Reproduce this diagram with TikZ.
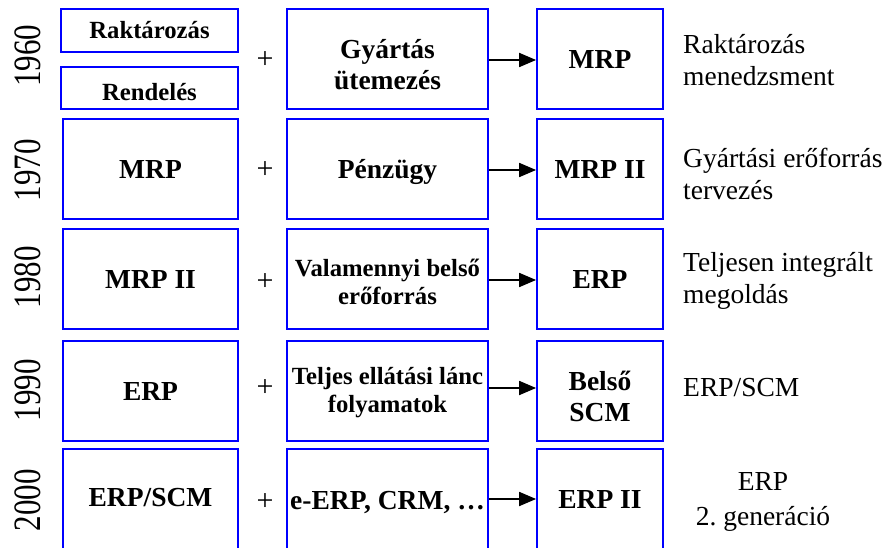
\documentclass[tikz,border=0pt]{standalone}
\usepackage{fontspec}
\setmainfont{Liberation Serif}
\usetikzlibrary{arrows.meta}
\begin{document}
\begin{tikzpicture}[x=1pt,y=-1pt,
  bx/.style={draw=blue, line width=1.8pt, inner sep=0pt},
  tx/.style={inner sep=0pt, align=center, font=\bfseries\fontsize{27.5}{31}\selectfont},
  sm/.style={font=\bfseries\fontsize{24.7}{28}\selectfont},
  desc/.style={anchor=west, inner sep=0pt, align=left, font=\fontsize{27.5}{32}\selectfont},
  yr/.style={rotate=90, inner sep=0pt, font=\fontsize{31}{31}\selectfont, yscale=1.25},
  pl/.style={inner sep=0pt, font=\fontsize{30}{30}\selectfont},
  ar/.style={draw=black, line width=1.8pt, -{Triangle[length=17pt,width=14pt]}}]
\useasboundingbox (0,0) rectangle (888,548);
\clip (0,0) rectangle (888,548);
% years
\node[yr] (y1) at (28,56) {1960};
\node[yr] (y2) at (28,170) {1970};
\node[yr] (y3) at (28,277) {1980};
\node[yr] (y4) at (28,390) {1990};
\node[yr] (y5) at (28,500) {2000};
% boxes
\node[bx, minimum width=177, minimum height=43] (a1) at (149.5,30.5) {};
\node[bx, minimum width=177, minimum height=42] (a1b) at (149.5,88) {};
\node[bx, minimum width=201, minimum height=100] (b1) at (387.5,59) {};
\node[bx, minimum width=126, minimum height=100] (c1) at (600,59) {};
\node[bx, minimum width=175, minimum height=100] (a2) at (150.5,169) {};
\node[bx, minimum width=201, minimum height=100] (b2) at (387.5,169) {};
\node[bx, minimum width=126, minimum height=100] (c2) at (600,169) {};
\node[bx, minimum width=175, minimum height=100] (a3) at (150.5,279) {};
\node[bx, minimum width=201, minimum height=100] (b3) at (387.5,279) {};
\node[bx, minimum width=126, minimum height=100] (c3) at (600,279) {};
\node[bx, minimum width=175, minimum height=100] (a4) at (150.5,391) {};
\node[bx, minimum width=201, minimum height=100] (b4) at (387.5,391) {};
\node[bx, minimum width=126, minimum height=100] (c4) at (600,391) {};
\node[bx, minimum width=175, minimum height=104] (a5) at (150.5,501) {};
\node[bx, minimum width=201, minimum height=104] (b5) at (387.5,501) {};
\node[bx, minimum width=126, minimum height=104] (c5) at (600,501) {};
% box texts
\node[tx, sm] (ta1) at (a1.center) {Raktározás};
\node[tx, sm] (ta1b) at ([yshift=-4pt]a1b.center) {Rendelés};
\node[tx] (tb1) at ([yshift=-6pt]b1.center) {Gyártás\\ütemezés};
\node[tx] (tc1) at (c1.center) {MRP};
\node[tx] (ta2) at (a2.center) {MRP};
\node[tx] (tb2) at ([yshift=-3pt]b2.center) {Pénzügy};
\node[tx] (tc2) at (c2.center) {MRP II};
\node[tx] (ta3) at (a3.center) {MRP II};
\node[tx, sm] (tb3) at ([yshift=-3pt]b3.center) {Valamennyi belső\\erőforrás};
\node[tx] (tc3) at (c3.center) {ERP};
\node[tx] (ta4) at (a4.center) {ERP};
\node[tx, sm] (tb4) at ([yshift=-2pt]b4.center) {Teljes ellátási lánc\\folyamatok};
\node[tx] (tc4) at ([yshift=-5pt]c4.center) {Belső\\SCM};
\node[tx] (ta5) at ([yshift=3pt]a5.center) {ERP/SCM};
\node[tx] (tb5) at ([yshift=-2pt]b5.center) {e-ERP, CRM, …};
\node[tx] (tc5) at ([yshift=2pt]c5.center) {ERP II};
% plus signs
\node[pl] (p1) at (265,60) {+};
\node[pl] (p2) at (265,170) {+};
\node[pl] (p3) at (265,282) {+};
\node[pl] (p4) at (265,388) {+};
\node[pl] (p5) at (265,502) {+};
% arrows
\draw[ar] (b1.east |- 0,60) -- (c1.west |- 0,60);
\draw[ar] (b2.east |- 0,170) -- (c2.west |- 0,170);
\draw[ar] (b3.east |- 0,280) -- (c3.west |- 0,280);
\draw[ar] (b4.east |- 0,388) -- (c4.west |- 0,388);
\draw[ar] (b5.east |- 0,499) -- (c5.west |- 0,499);
% descriptions
\node[desc] (d1) at (683,60) {Raktározás\\menedzsment};
\node[desc] (d2) at (683,174) {Gyártási erőforrás\\tervezés};
\node[desc] (d3) at (683,281) {Teljesen integrált\\megoldás};
\node[desc] (d4) at (683,388) {ERP/SCM};
\node[align=center, inner sep=0pt, font=\fontsize{27.5}{35}\selectfont] (d5) at (763,502) {ERP\\2.\ generáció};
\end{tikzpicture}
\end{document}
